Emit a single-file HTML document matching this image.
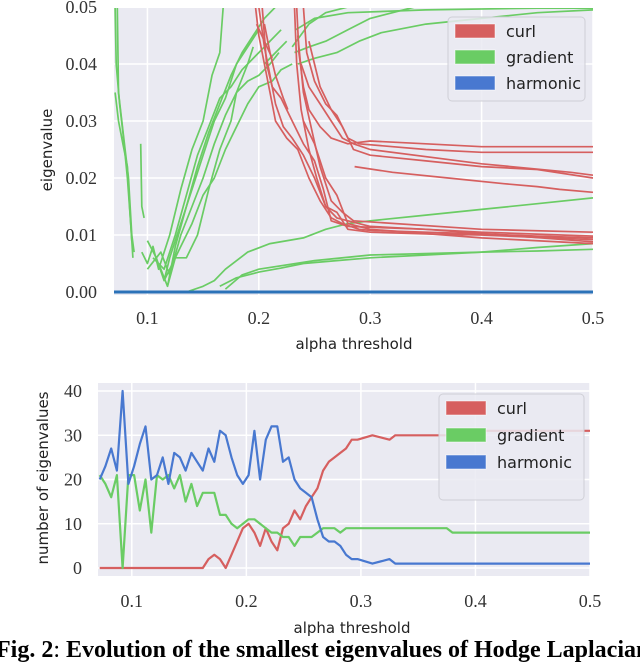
<!DOCTYPE html>
<html><head><meta charset="utf-8"><style>
body{margin:0;background:#fff;width:640px;height:663px;overflow:hidden}
svg{display:block}
.tk{font-family:"Liberation Serif",serif;font-size:18px;fill:#333}
.lb{font-family:"DejaVu Sans","Liberation Sans",sans-serif;font-size:15px;fill:#222}
.lg{font-family:"DejaVu Sans","Liberation Sans",sans-serif;font-size:16px;fill:#222}
</style></head><body>
<svg id="fig" width="640" height="663" viewBox="0 0 640 663" xmlns="http://www.w3.org/2000/svg">
<text x="-4" y="657" font-family="Liberation Serif,serif" font-size="24" font-weight="bold" fill="#000">Fig. 2<tspan font-weight="normal">:</tspan> Evolution of the smallest eigenvalues of Hodge Laplacian</text>
</svg>
<script>
// ---------- top chart data ----------
const topXTicks=[0.1,0.2,0.3,0.4,0.5];
const topYTicks=[0,0.01,0.02,0.03,0.04,0.05];
const topYTickLabels=["0.00","0.01","0.02","0.03","0.04","0.05"];
const gradientLines=[
[[0.071,0.05],[0.072,0.04],[0.075,0.033],[0.078,0.028],[0.082,0.02],[0.085,0.012],[0.087,0.006]],
[[0.073,0.05],[0.074,0.035],[0.077,0.03],[0.080,0.025],[0.083,0.02],[0.086,0.01],[0.088,0.007]],
[[0.071,0.035],[0.074,0.03],[0.078,0.026],[0.082,0.022],[0.084,0.015],[0.086,0.009]],
[[0.094,0.026],[0.095,0.015],[0.097,0.013]],
[[0.095,0.007],[0.1,0.005],[0.105,0.008],[0.11,0.004],[0.12,0.01],[0.13,0.018],[0.14,0.025],[0.15,0.03],[0.158,0.038],[0.165,0.042],[0.168,0.05]],
[[0.1,0.009],[0.108,0.006],[0.115,0.002],[0.12,0.006],[0.13,0.012],[0.14,0.018],[0.15,0.024],[0.16,0.03],[0.17,0.034],[0.18,0.04],[0.19,0.043],[0.2,0.046]],
[[0.11,0.005],[0.118,0.001],[0.125,0.008],[0.135,0.015],[0.145,0.022],[0.155,0.028],[0.165,0.033],[0.175,0.038],[0.185,0.042],[0.195,0.045],[0.205,0.048],[0.215,0.05]],
[[0.105,0.006],[0.115,0.004],[0.125,0.01],[0.135,0.017],[0.145,0.024],[0.155,0.029],[0.165,0.034],[0.175,0.036],[0.185,0.039],[0.2,0.042],[0.21,0.044]],
[[0.1,0.004],[0.112,0.007],[0.12,0.003],[0.13,0.01],[0.14,0.015],[0.15,0.02],[0.16,0.026],[0.17,0.031],[0.18,0.035],[0.19,0.037],[0.2,0.038],[0.21,0.04],[0.218,0.042]],
[[0.115,0.002],[0.12,0.004],[0.13,0.008],[0.14,0.012],[0.15,0.017],[0.16,0.02],[0.17,0.025],[0.18,0.029],[0.19,0.033],[0.2,0.036],[0.212,0.037],[0.22,0.039],[0.23,0.04]],
[[0.118,0.001],[0.125,0.006],[0.135,0.006],[0.145,0.01],[0.155,0.018],[0.165,0.025],[0.175,0.03],[0.18,0.035],[0.19,0.04],[0.195,0.043]],
[[0.135,0],[0.15,0.001],[0.16,0.002],[0.17,0.004],[0.19,0.007],[0.21,0.0085],[0.24,0.0095],[0.26,0.011],[0.28,0.012],[0.30,0.0125],[0.35,0.0135],[0.4,0.0145],[0.45,0.0155],[0.5,0.0165]],
[[0.165,0.001],[0.18,0.0025],[0.2,0.0035],[0.22,0.0042],[0.24,0.005],[0.27,0.0055],[0.3,0.006],[0.35,0.0065],[0.4,0.007],[0.45,0.0072],[0.5,0.0075]],
[[0.17,0.0005],[0.185,0.003],[0.2,0.004],[0.25,0.0055],[0.3,0.0065],[0.4,0.007],[0.45,0.0078],[0.5,0.0085]],
[[0.23,0.043],[0.245,0.047],[0.26,0.049],[0.28,0.05]],
[[0.233,0.046],[0.25,0.048],[0.28,0.049],[0.35,0.0495],[0.45,0.0498],[0.5,0.0498]],
[[0.235,0.04],[0.25,0.041],[0.27,0.042],[0.29,0.044],[0.31,0.0455],[0.35,0.047],[0.4,0.048],[0.45,0.049],[0.5,0.0495]],
[[0.232,0.042],[0.245,0.043],[0.26,0.044],[0.28,0.046],[0.3,0.048],[0.32,0.049],[0.34,0.05]],
[[0.205,0.04],[0.215,0.042],[0.225,0.044]],
[[0.205,0.043],[0.22,0.046]]
];
const curlLines=[
[[0.197,0.05],[0.2,0.045],[0.205,0.04],[0.21,0.035],[0.215,0.03],[0.225,0.027],[0.235,0.025],[0.245,0.02],[0.255,0.016],[0.265,0.013],[0.275,0.012],[0.29,0.011],[0.3,0.0108],[0.35,0.0105],[0.4,0.0102],[0.45,0.0098],[0.5,0.0095]],
[[0.2,0.05],[0.205,0.043],[0.21,0.038],[0.215,0.033],[0.222,0.029],[0.23,0.027],[0.24,0.024],[0.25,0.02],[0.26,0.015],[0.27,0.013],[0.28,0.0125],[0.3,0.0115],[0.35,0.011],[0.4,0.0105],[0.5,0.0098]],
[[0.203,0.05],[0.207,0.04],[0.212,0.036],[0.22,0.034],[0.23,0.03],[0.24,0.026],[0.25,0.023],[0.258,0.018],[0.265,0.0125],[0.28,0.0115],[0.35,0.011],[0.5,0.0088]],
[[0.205,0.047],[0.21,0.042],[0.215,0.038],[0.222,0.034],[0.226,0.032]],
[[0.198,0.047],[0.205,0.044],[0.212,0.041]],
[[0.234,0.05],[0.236,0.042],[0.24,0.036],[0.245,0.032],[0.255,0.029],[0.265,0.027],[0.28,0.026],[0.3,0.0265],[0.35,0.026],[0.4,0.0255],[0.45,0.0255],[0.5,0.0255]],
[[0.24,0.05],[0.243,0.042],[0.25,0.037],[0.26,0.033],[0.27,0.031],[0.28,0.027],[0.29,0.026],[0.35,0.025],[0.4,0.0245],[0.5,0.0245]],
[[0.245,0.044],[0.25,0.04],[0.255,0.036],[0.265,0.032],[0.275,0.029],[0.285,0.025],[0.3,0.024],[0.35,0.023],[0.4,0.022],[0.45,0.0215],[0.5,0.02]],
[[0.238,0.04],[0.245,0.036],[0.255,0.033],[0.265,0.03],[0.275,0.027],[0.285,0.026],[0.3,0.025],[0.4,0.0225],[0.48,0.021],[0.5,0.0205]],
[[0.286,0.022],[0.32,0.021],[0.37,0.02],[0.42,0.019],[0.45,0.0185],[0.47,0.018],[0.5,0.0175]],
[[0.232,0.05],[0.234,0.04],[0.238,0.032],[0.245,0.025],[0.252,0.02],[0.26,0.015],[0.27,0.014],[0.28,0.011],[0.3,0.0105],[0.35,0.0102],[0.4,0.01],[0.5,0.0092]],
[[0.24,0.03],[0.25,0.026],[0.26,0.02],[0.27,0.017],[0.28,0.012],[0.3,0.011],[0.4,0.0095],[0.5,0.0085]],
[[0.235,0.045],[0.24,0.035],[0.248,0.028],[0.255,0.022],[0.265,0.016],[0.275,0.014],[0.285,0.0125],[0.4,0.011],[0.5,0.0105]]
];
const harmonicLine=[[0.07,0],[0.5,0]];

// ---------- bottom chart data ----------
const botXTicks=[0.1,0.2,0.3,0.4,0.5];
const botYTicks=[0,10,20,30,40];
const alphas=[0.072,0.077,0.082,0.087,0.092,0.097,0.102,0.107,0.112,0.117,0.122,0.127,0.132,0.137,0.142,0.147,0.152,0.157,0.162,0.167,0.172,0.177,0.182,0.187,0.192,0.197,0.202,0.207,0.212,0.217,0.222,0.227,0.232,0.237,0.242,0.247,0.252,0.257,0.262,0.267,0.272,0.277,0.282,0.287,0.292,0.297,0.31,0.325,0.33,0.375,0.38,0.4,0.5];
const harmonicCounts=[20,23,27,22,40,19,23,28,32,20,21,25,19,26,25,22,26,24,22,27,24,31,30,25,21,19,21,31,20,29,32,32,24,25,20,18,17,16,11,7,6,6,5,3,2,2,1,2,1,1,1,1,1];
const gradientCounts=[21,19,16,21,0,21,21,13,20,8,21,20,21,18,21,15,19,14,17,17,17,12,12,10,9,10,11,11,10,9,8,8,7,7,5,7,7,7,8,9,9,9,8,9,9,9,9,9,9,9,8,8,8];
const curlCounts=[0,0,0,0,0,0,0,0,0,0,0,0,0,0,0,0,0,0,0,2,3,2,0,3,6,9,10,8,5,9,6,4,9,10,13,11,14,16,18,22,24,25,26,27,29,29,30,29,30,30,31,31,31];

const NS="http://www.w3.org/2000/svg";
const svg=document.getElementById('fig');
const RED="#d65f5f",GREEN="#6acc64",BLUE="#4878d0";
function mk(tag,attrs,parent){const e=document.createElementNS(NS,tag);for(const k in attrs)e.setAttribute(k,attrs[k]);(parent||svg).appendChild(e);return e;}

// ---- top chart ----
const tL=114,tR=593,tT=8,tB=295;
const tx=v=>tL+(v-0.07)/(0.5-0.07)*(tR-tL);
const ty=v=>292-(v/0.05)*(292-7);
const gTop=mk('g',{});


const bg1=mk('rect',{x:tL,y:tT,width:tR-tL,height:tB-tT,fill:"#eaeaf2"},gTop);


topXTicks.forEach(v=>{
  const l=mk('line',{x1:tx(v),x2:tx(v),y1:tT,y2:tB,stroke:"#fff","stroke-width":1.5},gTop);
  
  
  const t=mk('text',{x:tx(v),y:324,"text-anchor":"middle",class:"tk"},gTop);
  
  
  t.textContent=String(v);
});
topYTicks.forEach((v,i)=>{
  const l=mk('line',{x1:tL,x2:tR,y1:ty(v),y2:ty(v),stroke:"#fff","stroke-width":1.5},gTop);
  
  
  const t=mk('text',{x:97,y:ty(v)+6,"text-anchor":"end",class:"tk"},gTop);
  
  
  t.textContent=topYTickLabels[i];
});
const clip=mk('clipPath',{id:"c1"},svg);mk('rect',{x:tL,y:tT,width:tR-tL,height:tB-tT},clip);
function poly(pts,fx,fy,color,w,parent,name){
  const p=mk('polyline',{points:pts.map(q=>fx(q[0]).toFixed(1)+","+fy(q[1]).toFixed(1)).join(" "),fill:"none",stroke:color,"stroke-width":w,"stroke-linejoin":"round","clip-path":"url(#c1)"},parent);
  
  
  return p;
}
gradientLines.forEach(s=>poly(s,tx,ty,GREEN,1.7,gTop,'gradient-eigenvalue-line'));
curlLines.forEach(s=>poly(s,tx,ty,RED,1.7,gTop,'curl-eigenvalue-line'));
poly(harmonicLine,tx,ty,"#2b72b8",3,gTop,'harmonic-eigenvalue-line');
let t=mk('text',{x:354,y:349,"text-anchor":"middle",class:"lb"},gTop);
t.textContent="alpha threshold";
t=mk('text',{x:52,y:150,"text-anchor":"middle",class:"lb",transform:"rotate(-90 52 150)"},gTop);
t.textContent="eigenvalue";

function legend(x,y,w,h,rowH,parent){
  const g=mk('g',{},parent);
  
  
  mk('rect',{x:x,y:y,width:w,height:h,rx:4,fill:"#eaeaf2","fill-opacity":0.85,stroke:"#cfcfd6"},g);
  [["curl",RED],["gradient",GREEN],["harmonic",BLUE]].forEach((e,i)=>{
    const r=mk('rect',{x:x+7,y:y+7+i*rowH,width:40,height:14,fill:e[1],stroke:"#fff","stroke-opacity":0.5},g);
    
    
    const tt=mk('text',{x:x+58,y:y+20+i*rowH,class:"lg"},g);
    
    
    tt.textContent=e[0];
  });
}
legend(448,17,137,84,26,gTop);

// ---- bottom chart ----
const bL=98,bR=590,bT=383,bB=576;
const bx=v=>bL+(v-0.0705)/(0.5-0.0705)*(bR-bL);
const by=v=>568-v*(568-391)/40;
const gBot=mk('g',{});


const bg2=mk('rect',{x:bL,y:bT,width:bR-bL,height:bB-bT,fill:"#eaeaf2"},gBot);


botXTicks.forEach(v=>{
  const l=mk('line',{x1:bx(v),x2:bx(v),y1:bT,y2:bB,stroke:"#fff","stroke-width":1.5},gBot);
  
  
  const tt=mk('text',{x:bx(v),y:607,"text-anchor":"middle",class:"tk"},gBot);
  
  
  tt.textContent=String(v);
});
botYTicks.forEach(v=>{
  const l=mk('line',{x1:bL,x2:bR,y1:by(v),y2:by(v),stroke:"#fff","stroke-width":1.5},gBot);
  
  
  const tt=mk('text',{x:82,y:by(v)+6,"text-anchor":"end",class:"tk"},gBot);
  
  
  tt.textContent=String(v);
});
const clip2=mk('clipPath',{id:"c2"},svg);mk('rect',{x:bL,y:bT,width:bR-bL,height:bB-bT},clip2);
function series(vals,color,name){
  const p=mk('polyline',{points:alphas.map((a,i)=>bx(a).toFixed(1)+","+by(vals[i]).toFixed(1)).join(" "),fill:"none",stroke:color,"stroke-width":2.2,"stroke-linejoin":"round","clip-path":"url(#c2)"},gBot);
  
  
}
series(curlCounts,RED,'curl-count-line');
series(gradientCounts,GREEN,'gradient-count-line');
series(harmonicCounts,BLUE,'harmonic-count-line');
t=mk('text',{x:352,y:633,"text-anchor":"middle",class:"lb"},gBot);
t.textContent="alpha threshold";
t=mk('text',{x:48,y:478,"text-anchor":"middle",class:"lb",transform:"rotate(-90 48 478)"},gBot);
t.textContent="number of eigenvalues";
legend(439,394,145,106,27,gBot);
</script>
</body></html>
